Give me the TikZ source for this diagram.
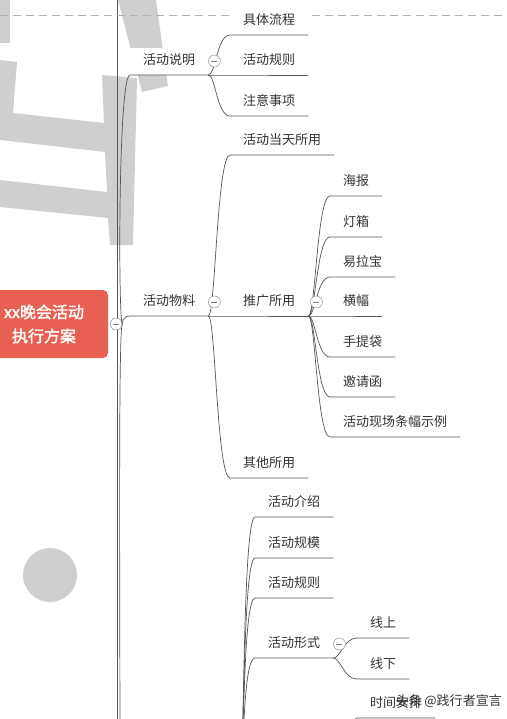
\documentclass[tikz,border=0pt]{standalone}
\usepackage{fontspec}
\newfontfamily\cjk{Noto Sans CJK SC}
\newfontfamily\cjkbold{Noto Sans CJK SC}[FakeBold=2]
\definecolor{bggray}{RGB}{207,207,209}
\definecolor{rootred}{RGB}{231,96,81}
\definecolor{ink}{RGB}{51,51,51}
\definecolor{wire}{RGB}{85,85,85}
\begin{document}
\begin{tikzpicture}[x=1pt,y=-1pt,
  topic/.style={anchor=south west,fill=white,inner xsep=13pt,inner ysep=7pt,text height=10pt,text depth=3pt,font=\cjk\fontsize{13}{13}\selectfont,text=ink},
  central/.style={fill=rootred,rounded corners=5pt,minimum width=128pt,minimum height=68pt,align=center,text=white,font=\cjkbold\fontsize{16}{24}\selectfont},
  fold/.style={circle,draw=gray,fill=white,minimum size=12pt,inner sep=0pt,path picture={\draw[gray,line width=0.8pt] ([xshift=-3pt]path picture bounding box.center) -- ([xshift=3pt]path picture bounding box.center);}},
  conn/.style={draw=wire,line width=0.7pt}]
\useasboundingbox (0,0) rectangle (506,719);
\clip (0,0) rectangle (506,719);
\fill[bggray] (0,0) -- (10,0) -- (10,43) -- (0,43) -- cycle;
\fill[bggray] (0,60) -- (17,62) -- (13,113) -- (104,123) -- (102,75) -- (137,78) -- (133,245) -- (110,245) -- (108,218) -- (0,207) -- (0,180) -- (107,192) -- (105,152) -- (0,140) -- cycle;
\fill[bggray] (118,0) -- (156,0) -- (168,86) -- (142,92) -- cycle;
\fill[bggray] (50,575) circle (27);
\draw[wire,line width=0.6pt] (117,0) -- (117,719);
\draw[gray!60,dash pattern=on 8pt off 5pt] (0,15) -- (506,15);
\node[central] (root) at (44,324) {xx晚会活动\\执行方案};
\node[topic] (sm) at (130,75) {活动说明};
\node[topic] (wl) at (130,316) {活动物料};
\node[topic] (jtlc) at (230,35) {具体流程};
\node[topic] (hdgz) at (230,75) {活动规则};
\node[topic] (zysx) at (230,116) {注意事项};
\node[topic] (dtsy) at (230,155) {活动当天所用};
\node[topic] (tgsy) at (230,316) {推广所用};
\node[topic] (qtsy) at (230,478) {其他所用};
\node[topic] (hb) at (330,196) {海报};
\node[topic] (dx) at (330,237) {灯箱};
\node[topic] (ylb) at (330,277) {易拉宝};
\node[topic] (hf) at (330,316) {横幅};
\node[topic] (stj) at (330,357) {手提袋};
\node[topic] (yqh) at (330,397) {邀请函};
\node[topic] (tfsl) at (330,437) {活动现场条幅示例};
\node[topic] (hdjs) at (255,517) {活动介绍};
\node[topic] (hdgm) at (255,558) {活动规模};
\node[topic] (hdgz2) at (255,598) {活动规则};
\node[topic] (hdxs) at (255,658) {活动形式};
\node[topic] (xs) at (357,638) {线上};
\node[topic] (xx) at (357,679) {线下};
\node[topic] (sjap) at (357,718) {时间安排};
\coordinate (tail) at (120,760);
\coordinate (b3) at (241,760);
\coordinate (b4) at (345,760);
\node[fold] (rc) at ([xshift=8pt]root.east) {};
\draw[conn] (rc) .. controls +(2,0) and +(-12,0) .. (sm.south west) -- (sm.south east);
\draw[conn] (rc) .. controls +(6,0) and +(-8,0) .. (wl.south west) -- (wl.south east);
\draw[conn] (rc) .. controls +(2,0) and +(0,-150) .. (tail);
\draw[conn] (sm.south east) .. controls +(7,0) and +(-13,0) .. (jtlc.south west) -- (jtlc.south east);
\draw[conn] (sm.south east) -- (hdgz.south west) -- (hdgz.south east);
\draw[conn] (sm.south east) .. controls +(7,0) and +(-13,0) .. (zysx.south west) -- (zysx.south east);
\draw[conn] (wl.south east) .. controls +(7,0) and +(-13,0) .. (dtsy.south west) -- (dtsy.south east);
\draw[conn] (wl.south east) -- (tgsy.south west) -- (tgsy.south east);
\draw[conn] (wl.south east) .. controls +(7,0) and +(-13,0) .. (qtsy.south west) -- (qtsy.south east);
\draw[conn] (tgsy.south east) .. controls +(7,0) and +(-13,0) .. (hb.south west) -- (hb.south east);
\draw[conn] (tgsy.south east) .. controls +(7,0) and +(-13,0) .. (dx.south west) -- (dx.south east);
\draw[conn] (tgsy.south east) .. controls +(7,0) and +(-13,0) .. (ylb.south west) -- (ylb.south east);
\draw[conn] (tgsy.south east) -- (hf.south west) -- (hf.south east);
\draw[conn] (tgsy.south east) .. controls +(7,0) and +(-13,0) .. (stj.south west) -- (stj.south east);
\draw[conn] (tgsy.south east) .. controls +(7,0) and +(-13,0) .. (yqh.south west) -- (yqh.south east);
\draw[conn] (tgsy.south east) .. controls +(7,0) and +(-13,0) .. (tfsl.south west) -- (tfsl.south east);
\draw[conn] (b3) .. controls +(3,0) and +(-12,0) .. (hdjs.south west) -- (hdjs.south east);
\draw[conn] (b3) .. controls +(3,0) and +(-12,0) .. (hdgm.south west) -- (hdgm.south east);
\draw[conn] (b3) .. controls +(3,0) and +(-12,0) .. (hdgz2.south west) -- (hdgz2.south east);
\draw[conn] (b3) .. controls +(3,0) and +(-12,0) .. (hdxs.south west) -- (hdxs.south east);
\draw[conn] (hdxs.south east) .. controls +(7,0) and +(-13,0) .. (xs.south west) -- (xs.south east);
\draw[conn] (hdxs.south east) .. controls +(7,0) and +(-13,0) .. (xx.south west) -- (xx.south east);
\draw[conn] (b4) .. controls +(3,0) and +(-10,0) .. (sjap.south west) -- (sjap.south east);
\node[fold] (f1) at ([shift={(6,-14)}]sm.south east) {};
\node[fold] (f2) at ([shift={(6,-14)}]wl.south east) {};
\node[fold] (f3) at ([shift={(8,-14)}]tgsy.south east) {};
\node[fold] (f4) at ([shift={(6,-14)}]hdxs.south east) {};
\node[anchor=west,font=\cjk\fontsize{13}{13}\selectfont,text=ink] (wm) at (392,701) {头条 @践行者宣言};
\end{tikzpicture}
\end{document}
